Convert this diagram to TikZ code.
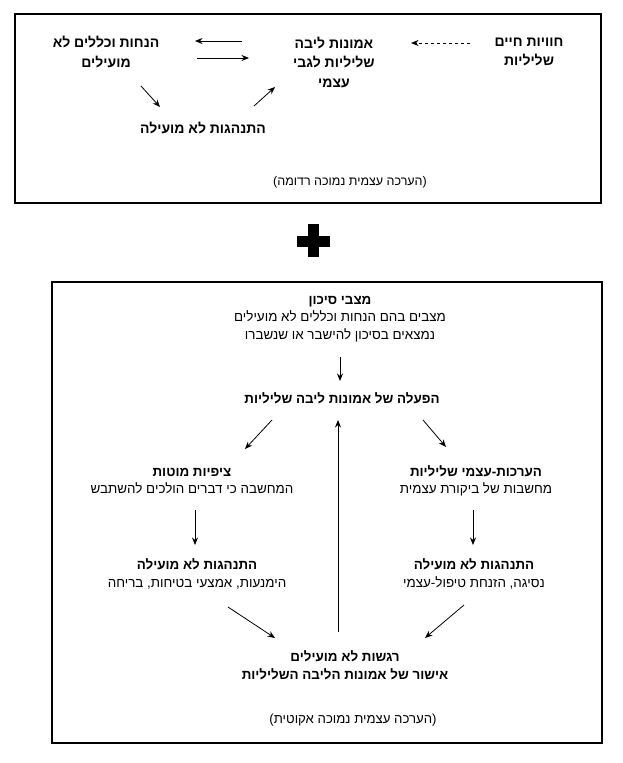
\documentclass[tikz,border=0pt]{standalone}
\usepackage{fontspec}
\setmainfont{Liberation Sans}[Script=Hebrew]
\TeXXeTstate=1
\usetikzlibrary{arrows.meta}
\newcommand{\heb}[1]{\beginR #1\endR}
\tikzset{
  frame/.style={draw=black, line width=1.2pt},
  tb/.style={align=center, inner sep=0pt, font=\fontsize{14}{19.5}\selectfont\bfseries},
  bb/.style={align=center, inner sep=0pt, font=\fontsize{13.4}{17.5}\selectfont},
  bbb/.style={align=center, inner sep=0pt, font=\fontsize{13.4}{17.5}\selectfont\bfseries},
  captext/.style={inner sep=0pt, font=\fontsize{12.5}{16}\selectfont},
  arr/.style={line width=0.8pt, -{Stealth[length=7.5pt,width=6pt]}},
}
\begin{document}
\begin{tikzpicture}[x=1pt,y=-1pt]
\useasboundingbox (0,0) rectangle (623,763);
% top frame
\draw[frame] (15,14) rectangle (601,203);
\node[tb] (exp) at (529,52) {\heb{חוויות חיים}\\\heb{שליליות}};
\node[tb] (core) at (334,62) {\heb{אמונות ליבה}\\\heb{שליליות לגבי}\\\heb{עצמי}};
\node[tb] (assum) at (106,52) {\heb{הנחות וכללים לא}\\\heb{מועילים}};
\node[tb] (beh) at (203,128) {\heb{התנהגות לא מועילה}};
\node[captext] (cap1) at (350,182) {)\heb{הערכה עצמית נמוכה רדומה}(};
\draw[arr,dashed] ([shift={(-59,-9)}]exp.center) -- ([shift={(77,-19)}]core.center);
\draw[arr] ([shift={(-92,-21)}]core.center) -- ([shift={(89,-11)}]assum.center);
\draw[arr] ([shift={(91,6)}]assum.center) -- ([shift={(-85,-4)}]core.center);
\draw[arr] ([shift={(35,34)}]assum.center) -- ([shift={(-43,-21)}]beh.center);
\draw[arr] ([shift={(51,-22)}]beh.center) -- ([shift={(-59,25)}]core.center);
% plus
\fill[black] (297,235.5) rectangle (330,246.5);
\fill[black] (308,224) rectangle (319,257);
% bottom frame
\draw[frame] (52,282) rectangle (602,743);
\node[bb] (risk) at (340,319) {\textbf{\heb{מצבי סיכון}}\\\heb{מצבים בהם הנחות וכללים לא מועילים}\\\heb{נמצאים בסיכון להישבר או שנשברו}};
\node[bbb] (act) at (342,398) {\heb{הפעלה של אמונות ליבה שליליות}};
\node[bb] (bias) at (192,481) {\textbf{\heb{ציפיות מוטות}}\\\heb{המחשבה כי דברים הולכים להשתבש}};
\node[bb] (self) at (476,481) {\textbf{\heb{הערכות-עצמי שליליות}}\\\heb{מחשבות של ביקורת עצמית}};
\node[bb] (behL) at (197,574) {\textbf{\heb{התנהגות לא מועילה}}\\\heb{הימנעות, אמצעי בטיחות, בריחה}};
\node[bb] (behR) at (474,574) {\textbf{\heb{התנהגות לא מועילה}}\\\heb{נסיגה, הזנחת טיפול-עצמי}};
\node[bbb] (emo) at (345,665) {\heb{רגשות לא מועילים}\\\heb{אישור של אמונות הליבה השליליות}};
\node[captext,font=\fontsize{13.2}{16}\selectfont] (cap2) at (353,720) {)\heb{הערכה עצמית נמוכה אקוטית}(};
\draw[arr] ([shift={(0,38)}]risk.center) -- ([shift={(-2,-17)}]act.center);
\draw[arr] ([shift={(-70,22)}]act.center) -- ([shift={(53,-32)}]bias.center);
\draw[arr] ([shift={(81,22)}]act.center) -- ([shift={(-30,-34)}]self.center);
\draw[arr] ([shift={(3,29)}]bias.center) -- ([shift={(-2,-29)}]behL.center);
\draw[arr] ([shift={(-3,29)}]self.center) -- ([shift={(-1,-29)}]behR.center);
\draw[arr] ([shift={(31,33)}]behL.center) -- ([shift={(-70,-27)}]emo.center);
\draw[arr] ([shift={(-10,31)}]behR.center) -- ([shift={(80,-27)}]emo.center);
\draw[arr] ([shift={(-7,-33)}]emo.center) -- ([shift={(-4,22)}]act.center);
\end{tikzpicture}
\end{document}
